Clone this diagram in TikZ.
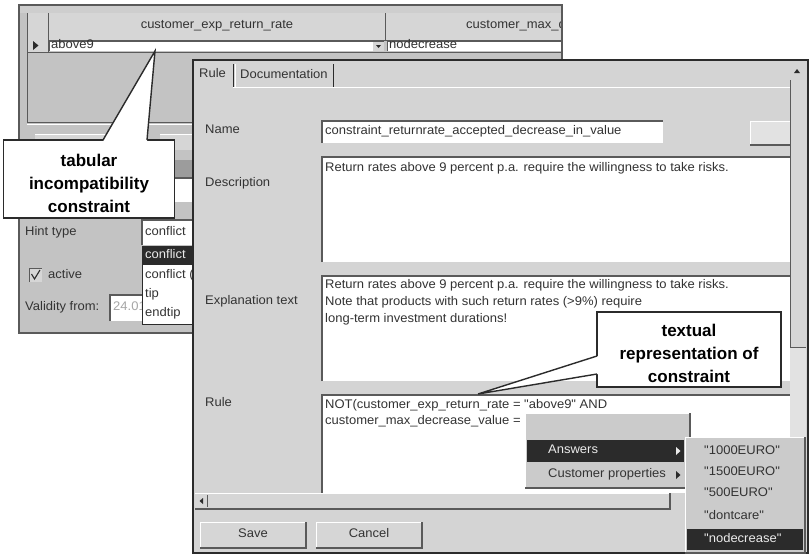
\documentclass[tikz,border=0pt]{standalone}
\usepackage{fontspec}
\setmainfont{Liberation Sans}
\newfontfamily\guifont{Liberation Sans}[FakeStretch=1.04]
\usetikzlibrary{calc}
\definecolor{backbg}{HTML}{C3C3C3}
\definecolor{frontbg}{HTML}{D4D4D4}
\definecolor{hdrbg}{HTML}{D6D6D6}
\definecolor{dark}{HTML}{2B2B2B}
\definecolor{edge}{HTML}{5A5A5A}
\definecolor{txt}{HTML}{333333}
\definecolor{menubg}{HTML}{CBCBCB}
\definecolor{trackbg}{HTML}{E2E2E2}
\tikzset{
  gui/.style={font=\guifont\fontsize{12.5}{14}\selectfont, text=txt, inner sep=0pt, anchor=mid west},
  guic/.style={font=\guifont\fontsize{12.5}{14}\selectfont, text=txt, inner sep=0pt, anchor=mid},
  guiw/.style={gui, text=white!92!black},
  calloutbox/.style={draw=dark, line width=1.4pt, fill=white},
  calltext/.style={font=\fontsize{17}{23}\selectfont\bfseries, align=center, text=black, inner sep=0pt},
  sunk/.style={draw=edge, line width=1.2pt},
  lite/.style={draw=white, line width=1pt},
  frame/.style={draw=dark, line width=1.3pt},
}
\begin{document}
\begin{tikzpicture}[x=1pt,y=-1pt]
\useasboundingbox (0,0) rectangle (810,557);
\fill[white] (0,0) rectangle (810,557);

% ---------------- back window ----------------
\fill[backbg] (19,5) rectangle (562,333);
\fill[hdrbg!60!backbg] (19,5) rectangle (562,13);
% table
\fill[hdrbg] (27,13) rectangle (562,40);
\draw[edge, line width=0.8pt] (27,40) -- (562,40);
\draw[edge, line width=0.8pt] (48,13) -- (48,52);
\draw[edge, line width=0.8pt] (385,13) -- (385,40);
\node[guic] (h1) at (217,26) {customer\_exp\_return\_rate};
\begin{scope}
  \clip (386,13) rectangle (561,40);
  \node[gui] (h2) at (466,26) {customer\_max\_decrease\_value};
\end{scope}
\fill[hdrbg] (27,40) rectangle (48,52);
\fill[dark] (33,41) -- (38.5,45.5) -- (33,50) -- cycle;
\fill[white] (49,41) rectangle (384,51);
\draw[sunk, line width=0.9pt] (49,51) |- (384,41);
\fill[hdrbg] (373,42) rectangle (384,51);
\fill[dark] (376,45) -- (381,45) -- (378.5,48) -- cycle;
\node[gui] (r1) at (51,46) {above9};
\fill[white] (387,41) rectangle (561,51);
\draw[sunk, line width=0.9pt] (387,51) |- (561,41);
\node[gui] (r2) at (389,46) {nodecrease};
\draw[edge, line width=0.8pt] (27,52) -- (562,52);
\draw[edge, line width=1pt] (27,13) -- (27,122) -- (562,122);
\draw[lite] (27,124) -- (562,124);
% buttons and fields under the table
\fill[hdrbg] (35,134) rectangle (110,150);
\draw[lite] (35,134) -- (110,134);
\fill[hdrbg] (160,134) rectangle (193,150);
\draw[lite] (160,134) -- (193,134);
\fill[backbg!80!black] (143,160) rectangle (193,178);
\fill[white] (143,178) rectangle (193,202);
\draw[sunk] (143,202) |- (193,178);
\node[gui] (lhint) at (25,233) {Hint type};
\fill[white] (142,220) rectangle (193,245);
\draw[sunk] (142,245) |- (193,220);
\node[gui] (vhint) at (145,233) {conflict};
% checkbox
\fill[hdrbg] (29,268) rectangle (42,282);
\draw[sunk, line width=1pt] (29,282) |- (42,268);
\draw[dark, line width=1.1pt] (31.5,274) -- (34.5,279) -- (40,270);
\node[gui] (lactive) at (48,276) {active};
\node[gui] (lvalid) at (25,308) {Validity from:};
\fill[white] (110,295) rectangle (142,321);
\draw[sunk] (110,321) |- (142,295);
\node[gui, text=gray!70] (vvalid) at (113,308) {24.01};
% dropdown list
\fill[white] (142,246) rectangle (193,324);
\draw[dark, line width=1pt] (193,324) -- (142,324) -- (142,246) -- (193,246);
\fill[dark] (142,246) rectangle (193,265);
\node[guiw] (o1) at (145,256) {conflict};
\node[gui] (o2) at (145,276) {conflict (d};
\node[gui] (o3) at (145,295) {tip};
\node[gui] (o4) at (145,314) {endtip};
\draw[edge, line width=1.2pt] (19,5) rectangle (562,333);

% ---------------- callout 1 ----------------
\node[calloutbox, minimum width=171pt, minimum height=78pt, inner sep=0pt] (c1) at (89,179) {};
\coordinate (c1tip) at (155,51);
\coordinate (c1a) at (103,140);
\coordinate (c1b) at (147,140);
\fill[white] ([yshift=-1.5pt]c1a) -- (c1tip) -- ([yshift=-1.5pt]c1b) -- cycle;
\draw[dark, line width=1.4pt] (c1a) -- (c1tip) -- (c1b);
\node[calltext] (c1t) at (89,183.5) {tabular\\incompatibility\\constraint};

% ---------------- front window ----------------
\fill[frontbg] (193,60) rectangle (808,553);
% tabs
\node[gui] (tRule) at (199,75) {Rule};
\draw[dark, line width=1pt] (233,64) -- (233,87);
\draw[lite] (235,64) -- (235,87);
\node[gui] (tDoc) at (240,76) {Documentation};
\draw[dark, line width=1pt] (333,64) -- (333,87);
\draw[lite] (233,87) -- (790,87);
% vertical scrollbar
\fill[trackbg] (790,62) rectangle (806,553);
\fill[frontbg] (790,62) rectangle (806,80);
\fill[dark] (794,73) -- (800,73) -- (797,69) -- cycle;
\fill[hdrbg] (790,80) rectangle (806,347);
\draw[edge, line width=1pt] (790,80) -- (790,347) -- (806,347);
% Name
\node[gui] (lname) at (205,131) {Name};
\fill[white] (322,121) rectangle (663,143);
\draw[sunk] (322,143) |- (663,121);
\node[gui] (vname) at (325,132) {constraint\_returnrate\_accepted\_decrease\_in\_value};
\fill[hdrbg!70!white] (750,121) rectangle (790,145);
\draw[lite] (750,145) |- (790,121);
\draw[edge, line width=1.2pt] (750,145) -- (790,145);
% Description
\node[gui] (ldesc) at (205,184) {Description};
\fill[white] (322,157) rectangle (790,262);
\draw[sunk] (322,262) |- (790,157);
\node[gui] (vdesc) at (325,169) {Return rates above 9 percent p.a. require the willingness to take risks.};
% Explanation
\node[gui] (lexpl) at (205,302) {Explanation text};
\fill[white] (322,276) rectangle (790,381);
\draw[sunk] (322,381) |- (790,276);
\node[gui] (vexpl1) at (325,286) {Return rates above 9 percent p.a. require the willingness to take risks.};
\node[gui] (vexpl2) at (325,303) {Note that products with such return rates (>9\%) require};
\node[gui] (vexpl3) at (325,320) {long-term investment durations!};
% Rule
\node[gui] (lrule) at (205,404) {Rule};
\fill[white] (322,395) rectangle (790,493);
\draw[sunk] (322,493) |- (790,395);
\node[gui] (vrule1) at (325,406) {NOT(customer\_exp\_return\_rate = "above9" AND};
\node[gui] (vrule2) at (325,422) {customer\_max\_decrease\_value =};
% horizontal scrollbar
\fill[hdrbg] (195,493) rectangle (670,509);
\draw[lite] (195,493) -- (670,493);
\draw[edge, line width=1.2pt] (195,509) -- (670,509) -- (670,493);
\draw[edge, line width=0.8pt] (207,495) -- (207,507);
\fill[dark] (203,498) -- (199.5,501) -- (203,504) -- cycle;
% buttons
\fill[hdrbg] (200,522) rectangle (306,548);
\draw[lite] (200,548) |- (306,522);
\draw[edge, line width=1.2pt] (200,548) -- (306,548) -- (306,522);
\node[guic] (bSave) at (253,535) {Save};
\fill[hdrbg] (316,522) rectangle (422,548);
\draw[lite] (316,548) |- (422,522);
\draw[edge, line width=1.2pt] (316,548) -- (422,548) -- (422,522);
\node[guic] (bCancel) at (369,535) {Cancel};
\draw[frame] (193,60) rectangle (808,553);

% ---------------- popup menus ----------------
\fill[menubg] (525,413) rectangle (690,488);
\draw[lite] (525,488) |- (690,413);
\draw[edge, line width=1.3pt] (525,488) -- (690,488) -- (690,413);
\fill[dark] (527,440) rectangle (684,462);
\node[guiw] (mAns) at (548,451) {Answers};
\fill[white!92!black] (676,447) -- (680.5,451) -- (676,455) -- cycle;
\node[gui] (mCust) at (548,475) {Customer properties};
\fill[dark] (676,471) -- (680.5,475) -- (676,479) -- cycle;

\fill[menubg] (685,437) rectangle (805,553);
\draw[lite] (685,553) |- (805,437);
\draw[edge, line width=1.3pt] (685,553) -- (805,553) -- (805,437);
\node[gui] (s1) at (704,452) {"1000EURO"};
\node[gui] (s2) at (704,473) {"1500EURO"};
\node[gui] (s3) at (704,494) {"500EURO"};
\node[gui] (s4) at (704,517) {"dontcare"};
\fill[dark] (687,529) rectangle (803,550);
\node[guiw] (s5) at (704,540) {"nodecrease"};

% ---------------- callout 2 ----------------
\node[calloutbox, minimum width=184pt, minimum height=75pt, inner sep=0pt] (c2) at (689,349.5) {};
\coordinate (c2tip) at (478,394);
\coordinate (c2a) at (597,356);
\coordinate (c2b) at (597,374);
\fill[white] ([xshift=1.5pt]c2a) -- (c2tip) -- ([xshift=1.5pt]c2b) -- cycle;
\draw[dark, line width=1.4pt] (c2a) -- (c2tip) -- (c2b);
\node[calltext] (c2t) at (689,353) {textual\\representation of\\constraint};
\end{tikzpicture}
\end{document}
